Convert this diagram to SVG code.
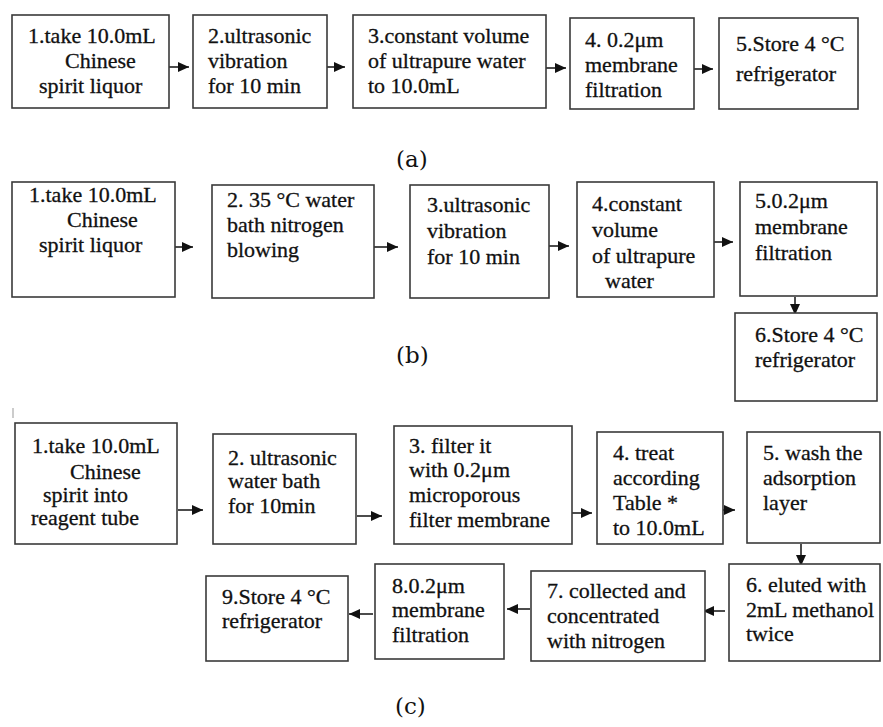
<svg xmlns="http://www.w3.org/2000/svg" width="883" height="727" viewBox="0 0 883 727">
<style>
.bx{fill:#fff;stroke:#3a3a3a;stroke-width:1.6}
.t{font-family:"Liberation Serif","Times New Roman",serif;font-size:22px;fill:#111;stroke:#111;stroke-width:0.3}
.lb{font-family:"DejaVu Serif","Liberation Serif",serif;font-size:23px;fill:#111}
.ar{stroke:#111;stroke-width:1.5;fill:none;marker-end:url(#ah)}
</style>
<defs>
<marker id="ah" markerUnits="userSpaceOnUse" markerWidth="12" markerHeight="11" refX="11" refY="5.5" orient="auto">
<path d="M0,0.5 L11,5.5 L0,10.5 z" fill="#111"/>
</marker>
</defs>
<rect width="883" height="727" fill="#fff"/>

<g id="connectors">
<line class="ar" x1="165" y1="67" x2="189" y2="67"/>
<line class="ar" x1="321" y1="67" x2="345" y2="67"/>
<line class="ar" x1="542" y1="68" x2="566" y2="68"/>
<line class="ar" x1="688" y1="69" x2="713" y2="69"/>
<line class="ar" x1="167" y1="247" x2="193" y2="247"/>
<line class="ar" x1="373" y1="247" x2="398" y2="247"/>
<line class="ar" x1="545" y1="246" x2="569" y2="246"/>
<line class="ar" x1="707" y1="242" x2="733" y2="242"/>
<line class="ar" x1="795" y1="297" x2="795" y2="315"/>
<line class="ar" x1="178" y1="510" x2="203" y2="510"/>
<line class="ar" x1="357" y1="516" x2="382" y2="516"/>
<line class="ar" x1="567" y1="513" x2="592" y2="513"/>
<line class="ar" x1="710" y1="510" x2="735" y2="510"/>
<line class="ar" x1="801" y1="544" x2="801" y2="566"/>
<line class="ar" x1="725" y1="611" x2="703" y2="611"/>
<line class="ar" x1="530" y1="609" x2="507" y2="609"/>
<line class="ar" x1="373" y1="614" x2="349" y2="614"/>
</g>

<!-- (a) -->
<g id="a1"><rect class="bx" x="12" y="15" width="157" height="93"/>
<text class="t" x="28" y="43">1.take 10.0mL</text><text class="t" x="65" y="68">Chinese</text><text class="t" x="39" y="93">spirit liquor</text></g>
<g id="a2"><rect class="bx" x="193" y="15" width="134" height="93"/>
<text class="t" x="208" y="43">2.ultrasonic</text><text class="t" x="208" y="68">vibration</text><text class="t" x="208" y="93">for 10 min</text></g>
<g id="a3"><rect class="bx" x="353" y="15" width="193" height="93"/>
<text class="t" x="368" y="43">3.constant volume</text><text class="t" x="368" y="68">of ultrapure water</text><text class="t" x="368" y="93">to 10.0mL</text></g>
<g id="a4"><rect class="bx" x="570" y="18" width="124" height="91"/>
<text class="t" x="585" y="47">4. 0.2μm</text><text class="t" x="585" y="72">membrane</text><text class="t" x="585" y="97">filtration</text></g>
<g id="a5"><rect class="bx" x="719" y="18" width="139" height="91"/>
<text class="t" x="736" y="51">5.Store 4 °C</text><text class="t" x="736" y="81">refrigerator</text></g>
<text class="lb" x="396" y="167">(a)</text>

<!-- (b) -->
<g id="b1"><rect class="bx" x="12" y="182" width="163" height="115"/>
<text class="t" x="29" y="202">1.take 10.0mL</text><text class="t" x="67" y="227">Chinese</text><text class="t" x="39" y="252">spirit liquor</text></g>
<g id="b2"><rect class="bx" x="212" y="185" width="162" height="113"/>
<text class="t" x="227" y="207">2. 35 °C water</text><text class="t" x="227" y="232">bath nitrogen</text><text class="t" x="227" y="257">blowing</text></g>
<g id="b3"><rect class="bx" x="410" y="185" width="139" height="113"/>
<text class="t" x="427" y="212">3.ultrasonic</text><text class="t" x="427" y="238">vibration</text><text class="t" x="427" y="264">for 10 min</text></g>
<g id="b4"><rect class="bx" x="577" y="182" width="137" height="115"/>
<text class="t" x="592" y="211">4.constant</text><text class="t" x="592" y="237">volume</text><text class="t" x="592" y="263">of ultrapure</text><text class="t" x="605" y="288">water</text></g>
<g id="b5"><rect class="bx" x="740" y="182" width="137" height="114"/>
<text class="t" x="755" y="208">5.0.2μm</text><text class="t" x="755" y="234">membrane</text><text class="t" x="755" y="260">filtration</text></g>
<g id="b6"><rect class="bx" x="735" y="313" width="142" height="88"/>
<text class="t" x="755" y="342">6.Store 4 °C</text><text class="t" x="755" y="367">refrigerator</text></g>
<text class="lb" x="396" y="363">(b)</text>

<!-- (c) -->
<line x1="13" y1="408" x2="13" y2="418" stroke="#999" stroke-width="1"/>
<g id="c1"><rect class="bx" x="15" y="423" width="162" height="121"/>
<text class="t" x="32" y="453">1.take 10.0mL</text><text class="t" x="70" y="479">Chinese</text><text class="t" x="43" y="502">spirit into</text><text class="t" x="31" y="525">reagent tube</text></g>
<g id="c2"><rect class="bx" x="213" y="434" width="143" height="110"/>
<text class="t" x="228" y="465">2. ultrasonic</text><text class="t" x="228" y="488">water bath</text><text class="t" x="228" y="513">for 10min</text></g>
<g id="c3"><rect class="bx" x="394" y="426" width="178" height="118"/>
<text class="t" x="409" y="453">3. filter it</text><text class="t" x="409" y="477">with 0.2μm</text><text class="t" x="409" y="502">microporous</text><text class="t" x="409" y="527">filter membrane</text></g>
<g id="c4"><rect class="bx" x="597" y="432" width="126" height="112"/>
<text class="t" x="613" y="460">4. treat</text><text class="t" x="613" y="485">according</text><text class="t" x="613" y="510">Table *</text><text class="t" x="613" y="535">to 10.0mL</text></g>
<g id="c5"><rect class="bx" x="747" y="432" width="133" height="111"/>
<text class="t" x="763" y="460">5. wash the</text><text class="t" x="763" y="485">adsorption</text><text class="t" x="763" y="510">layer</text></g>
<g id="c6"><rect class="bx" x="729" y="564" width="151" height="97"/>
<text class="t" x="746" y="592">6. eluted with</text><text class="t" x="746" y="617">2mL methanol</text><text class="t" x="746" y="641">twice</text></g>
<g id="c7"><rect class="bx" x="531" y="571" width="174" height="90"/>
<text class="t" x="547" y="598">7. collected and</text><text class="t" x="547" y="623">concentrated</text><text class="t" x="547" y="648">with nitrogen</text></g>
<g id="c8"><rect class="bx" x="375" y="564" width="129" height="95"/>
<text class="t" x="392" y="593">8.0.2μm</text><text class="t" x="392" y="617">membrane</text><text class="t" x="392" y="642">filtration</text></g>
<g id="c9"><rect class="bx" x="206" y="576" width="142" height="85"/>
<text class="t" x="222" y="604">9.Store 4 °C</text><text class="t" x="222" y="628">refrigerator</text></g>
<text class="lb" x="395" y="714">(c)</text>
</svg>
